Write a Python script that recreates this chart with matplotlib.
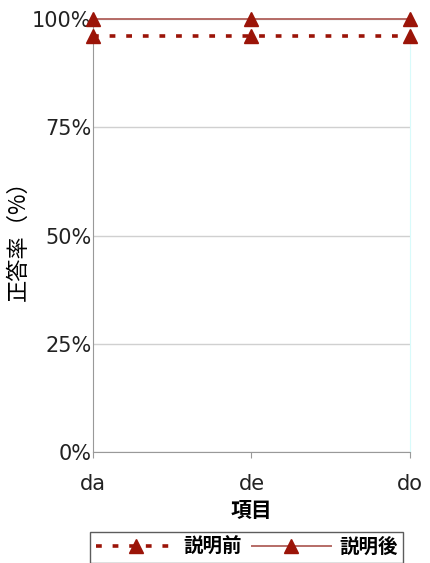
import matplotlib.pyplot as plt
from matplotlib.ticker import PercentFormatter

plt.rcParams['font.family'] = ['Noto Sans CJK JP', 'DejaVu Sans']

# items and correct-answer rates before / after explanation
items = ['da', 'de', 'do']
before = [0.96, 0.96, 0.96]
after = [1.00, 1.00, 1.00]
yticks = [0, 0.25, 0.5, 0.75, 1.0]

fig = plt.figure(figsize=(4.30, 5.63), dpi=100)
ax = fig.add_axes([93 / 430, 1 - 452 / 563, 317 / 430, 433 / 563])

x = list(range(len(items)))
ax.plot(x, before, linestyle=(0, (1.6, 3.0)), linewidth=2.6, color='#9b1408',
        marker='^', markersize=10, markerfacecolor='#9b1408',
        markeredgecolor='#9b1408', label='説明前', clip_on=False, zorder=3)
ax.plot(x, after, linestyle='-', linewidth=1.4, color='#b56b66',
        marker='^', markersize=10, markerfacecolor='#9b1408',
        markeredgecolor='#9b1408', label='説明後', clip_on=False, zorder=3)

ax.set_xlim(0, len(items) - 1)
ax.set_ylim(0, 1.0)
ax.set_xticks(x)
ax.set_xticklabels(items, fontsize=15, family='DejaVu Sans')
ax.set_yticks(yticks)
ax.yaxis.set_major_formatter(PercentFormatter(1.0, decimals=0))
for lbl in ax.get_yticklabels():
    lbl.set_fontsize(15)
    lbl.set_family('DejaVu Sans')

ax.grid(axis='y', color='#d0d0d0', linewidth=1)
ax.set_axisbelow(True)
ax.tick_params(axis='y', length=0, pad=1, colors='#222222')
ax.tick_params(axis='x', length=4, color='#999999', pad=12, labelcolor='#222222')

ax.spines['top'].set_visible(False)
ax.spines['left'].set_color('#999999')
ax.spines['bottom'].set_color('#999999')
ax.spines['right'].set_color('#d8fbfb')

ax.set_ylabel('正答率（%）', fontsize=16, labelpad=2)
ax.set_xlabel('項目', fontsize=15, fontweight='bold', labelpad=4)

leg = fig.legend(loc='lower left', bbox_to_anchor=(90 / 430, 0.0),
                 ncol=2, frameon=True, fancybox=False, handlelength=4.1,
                 columnspacing=0.5, handletextpad=0.4, borderpad=0.3,
                 borderaxespad=0.0, prop={'size': 14, 'weight': 'bold'})
leg.get_frame().set_edgecolor('#333333')
leg.get_frame().set_linewidth(1)

fig.savefig('out.png', dpi=100)
